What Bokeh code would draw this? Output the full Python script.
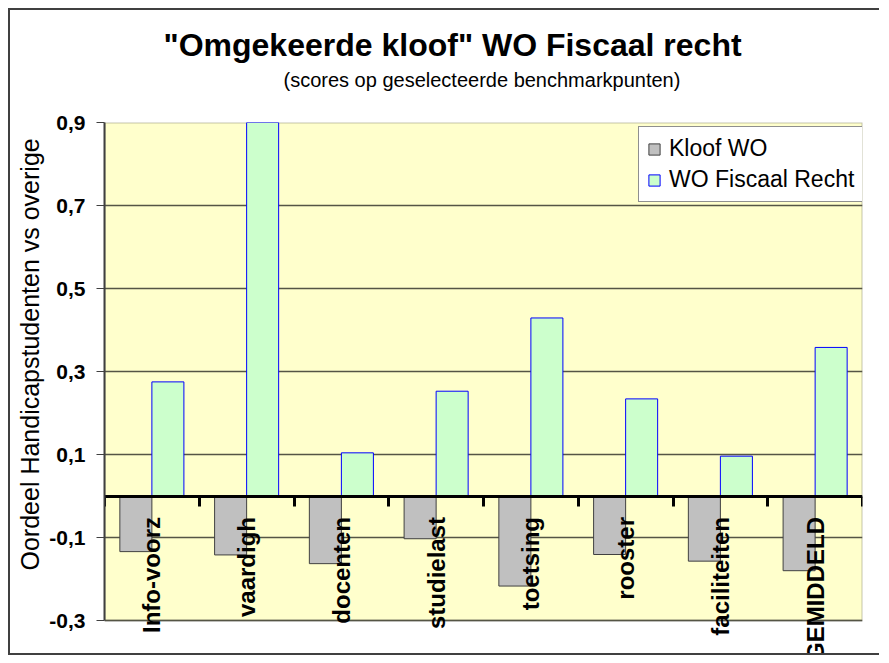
import numpy as np
from bokeh.plotting import figure
from bokeh.models import (Range1d, FixedTicker, LinearAxis, CustomJSTickFormatter,
                          ColumnDataSource, Title, BoxAnnotation)
from bokeh.embed import file_html
from bokeh.resources import INLINE

categories = ["Info-voorz", "vaardigh", "docenten", "studielast", "toetsing",
              "rooster", "faciliteiten", "GEMIDDELD"]
kloof_wo = [-0.134, -0.142, -0.163, -0.103, -0.217, -0.141, -0.157, -0.180]
wo_fiscaal_recht = [0.275, 0.95, 0.104, 0.2525, 0.429, 0.234, 0.096, 0.358]
y_ticks = [-0.3, -0.1, 0.1, 0.3, 0.5, 0.7, 0.9]

FONT = "Liberation Sans"
# layout (pixels)
H, TOP = 647, 112
PX_PER_UNIT = 415.0
y_lo = y_ticks[-1] - (H - TOP) / PX_PER_UNIT   # frame runs down to the canvas bottom

idx = np.arange(len(categories)) + 0.5
bw = 0.338
src = ColumnDataSource(dict(
    xg=idx - bw / 2, xf=idx + bw / 2,
    kloof=kloof_wo, fiscaal=wo_fiscaal_recht))

p = figure(width=871, height=H, x_range=Range1d(0, len(categories)),
           y_range=Range1d(y_lo, y_ticks[-1]), x_axis_type=None,
           output_backend="svg", toolbar_location=None, title_location=None,
           min_border_left=94, min_border_right=19, min_border_top=TOP,
           min_border_bottom=0, background_fill_color="white",
           border_fill_color="white", outline_line_color=None)
p.styles = {"border-left": "2px solid #404040", "border-top": "2px solid #404040",
            "border-bottom": "2px solid #404040", "margin-left": "8px",
            "margin-top": "8px"}

# plot area
p.add_layout(BoxAnnotation(left=0, right=len(categories), bottom=y_ticks[0],
                           top=y_ticks[-1], fill_color="#FFFFCC", fill_alpha=1,
                           line_color="#404040", line_width=2, level="image"))

spacer = Title(text=" ", text_font=FONT, text_font_size="1px", standoff=26)
p.add_layout(spacer, "above")
sub = Title(text="(scores op geselecteerde benchmarkpunten)", align="left",
            offset=179, text_font=FONT, text_font_size="20px",
            text_font_style="normal", text_color="black", standoff=6)
p.add_layout(sub, "above")
ttl = Title(text='"Omgekeerde kloof" WO Fiscaal recht', align="left",
            offset=59, text_font=FONT, text_font_size="32px",
            text_font_style="bold", text_color="black", standoff=2)
p.add_layout(ttl, "above")

p.vbar(x="xg", top="kloof", bottom=0, width=bw, source=src,
       fill_color="#C0C0C0", line_color="#404040", line_width=1,
       legend_label="Kloof WO")
p.vbar(x="xf", top="fiscaal", bottom=0, width=bw, source=src,
       fill_color="#CCFFCC", line_color="#0000FF", line_width=1,
       legend_label="WO Fiscaal Recht")

yax = p.yaxis[0]
yax.bounds = (y_ticks[0], y_ticks[-1])
yax.ticker = FixedTicker(ticks=y_ticks)
yax.formatter = CustomJSTickFormatter(code="return tick.toFixed(1).replace('.', ',')")
yax.major_label_text_font = FONT
yax.major_label_text_font_size = "21px"
yax.major_label_text_font_style = "bold"
yax.major_label_text_color = "black"
yax.major_tick_out = 8
yax.major_tick_in = 0
yax.major_tick_line_color = "#404040"
yax.minor_tick_line_color = None
yax.axis_line_color = "#404040"
yax.axis_line_width = 2
yax.major_label_standoff = 11

# y-axis title, placed beside the axis
ylab = Title(text="Oordeel Handicapstudenten vs overige", align="left",
             offset=87, text_font=FONT, text_font_size="25px",
             text_font_style="normal", text_color="black", standoff=5)
p.add_layout(ylab, "left")

p.ygrid.ticker = FixedTicker(ticks=y_ticks)
p.ygrid.grid_line_color = "#555545"
p.ygrid.grid_line_width = 1.5

# category labels, drawn by an axis fixed at zero
cat_axis = LinearAxis(fixed_location=0, ticker=FixedTicker(ticks=idx.tolist()),
                      major_label_overrides=dict(zip(idx.tolist(), categories)),
                      major_tick_in=0, major_tick_out=0, axis_line_color=None,
                      minor_tick_line_color=None, major_label_orientation=np.pi / 2,
                      major_label_standoff=21, major_label_text_font=FONT,
                      major_label_text_font_size="24px",
                      major_label_text_font_style="bold",
                      major_label_text_color="black")
p.add_layout(cat_axis, "below")

# zero line with ticks at the category boundaries
zero_axis = LinearAxis(fixed_location=0,
                       ticker=FixedTicker(ticks=list(range(len(categories) + 1))),
                       formatter=CustomJSTickFormatter(code="return ''"),
                       major_tick_in=0, major_tick_out=10, major_tick_line_width=3,
                       major_tick_line_color="black", axis_line_width=3,
                       axis_line_color="black", minor_tick_line_color=None,
                       major_label_text_font_size="1px")
p.add_layout(zero_axis, "below")

lg = p.legend[0]
lg.location = (534, 455)
lg.label_text_font = FONT
lg.label_text_font_size = "23px"
lg.label_text_color = "black"
lg.glyph_width = 14
lg.glyph_height = 14
lg.label_standoff = 8
lg.padding = 8
lg.spacing = 4
lg.label_height = 26
lg.margin = 0
lg.border_line_color = "#202020"
lg.border_line_width = 1
lg.background_fill_color = "white"
lg.background_fill_alpha = 1

open("out.html", "w").write(file_html(p, INLINE))
